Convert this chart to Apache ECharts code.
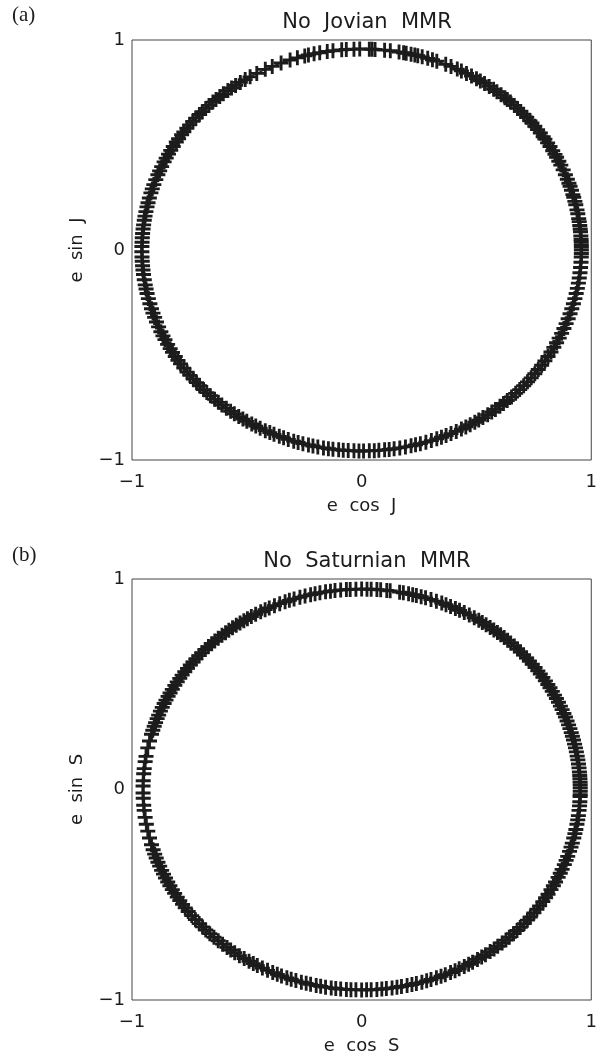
<!DOCTYPE html>
<html>
<head>
<meta charset="utf-8">
<script src="https://cdn.jsdelivr.net/npm/echarts@6/dist/echarts.min.js"></script>
<style>
  html, body { margin: 0; padding: 0; background: #ffffff; }
  #chart { width: 600px; height: 1058px; }
</style>
</head>
<body>
<div id="chart"></div>
<script>
// Orbital phase angles (degrees) of the sampled states, panel (a): Jupiter
const ANGLES_J = [
  -2, -1, 0, 0.8, 1.5, 2.3, 3, 4, 5.2, 6, 7, 8.1, 9, 10.4, 11.5, 13, 14, 15.2, 16, 17.3, 18.5, 19.4, 20.6, 22, 23.5, 25, 26.2, 27.5, 28.4, 29.6,
  31, 32.2, 33.5, 34.3, 35.6, 36.8, 38, 39.2, 40, 41.3, 42.5, 43.6, 44.8, 46, 47.4, 48.5, 49.3, 50.6, 52, 53.1, 54.5, 56, 57.3, 58.5, 60,
  61.5, 63, 64.2, 66, 67.5, 70, 71.2, 72.5, 74, 75.2, 76, 77, 78.3, 79, 80.2, 82.5, 84, 86.5, 87.3, 88, 90.5, 92, 94, 95.2, 97.5, 99,
  101, 102.5, 104, 105, 107, 109, 111.5, 114, 116, 118.5, 120.5, 122, 123.5, 125, 126.3, 127.5, 129, 130.2, 131.5, 132.6, 134, 135.2,
  136.5, 137.6, 139, 140.2, 141.5, 142.7, 144, 145, 146.4, 147.5, 149, 150.3, 151.5, 152.8, 154, 155.5, 156.8, 158, 159.5, 161, 162.3,
  163.5, 165, 166.4, 167.6, 169, 170.3, 171.5, 172.8, 174, 175.3, 176.5, 177.8, 179,
  180.5, 182, 183.2, 184.5, 185.7, 187, 188.5, 190, 191.2, 192.5, 194, 195.5, 197, 198.3, 199.6, 201, 202.5, 204, 205.3, 206.5, 208,
  209.4, 210.6, 212, 213.3, 214.5, 216, 217.4, 218.6, 220, 221.3, 222.5, 224, 225.2, 226.5, 228, 229.3, 230.5, 232, 233.4, 234.6, 236,
  237.3, 238.5, 240, 241.2, 242.5, 244, 245.3, 246.5, 248, 249.2, 250.5, 252, 253.2, 254.5, 256, 257.2, 258.5, 260, 261.3, 262.5, 264,
  265.2, 266.5, 268, 269.3,
  270.5, 272, 273.3, 274.5, 276, 277.2, 278.5, 280, 281.5, 283, 284.2, 285.5, 287, 288.5, 290, 291.3, 292.6, 294, 295.5, 297, 298.3,
  299.6, 301, 302.2, 303.5, 305, 306.3, 307.5, 309, 310.2, 311.5, 313, 314.5, 316, 317.5, 319, 320.5, 322, 323.5, 325, 326.5, 328,
  329.5, 331, 332.5, 334, 335.5, 337, 338.5, 340, 341.5, 343, 344.5, 346, 347.5, 349, 350.5, 352, 353.5, 355, 356.5
];

// Orbital phase angles (degrees) of the sampled states, panel (b): Saturn
const ANGLES_S = [
  -1.5, -0.5, 0.5, 1.4, 2.2, 3.1, 4, 5, 6.2, 7.3, 8.5, 9.6, 10.8, 12, 13.1, 14.3, 15.4, 16.5, 17.7, 18.8, 20, 21.2, 22.3, 23.5, 24.6,
  25.8, 27, 28.1, 29.3,
  30.5, 31.6, 32.8, 34, 35.2, 36.3, 37.5, 38.7, 39.9, 41, 42.2, 43.4, 44.5, 45.7, 47, 48.1, 49.3, 50.5, 51.6, 52.8, 54, 55.3, 56.5,
  57.6, 59,
  60.5, 62, 63.4, 64.6, 66, 67.3, 68.5, 70, 71.5, 73, 74.2, 75.5, 76.5, 77.6, 79, 80, 82.5, 83.4, 85, 86, 87.5, 88.6, 90, 91.5, 93,
  94, 95.5, 97, 98.2, 99.5, 101, 102.3, 103.5, 105, 106.4, 108, 109.3, 110.5, 112, 113.5, 115, 116.2, 117.5, 119,
  120.3, 121.5, 122.6, 123.8, 125, 126.2, 127.4, 128.5, 129.7, 131, 132.2, 133.3, 134.5, 135.7, 137, 138.1, 139.3, 140.5, 141.6,
  142.8, 144, 145.2, 146.3, 147.5, 148.7, 150,
  151.2, 152.3, 153.5, 154.6, 155.8, 157, 158.2, 159.3, 160.5, 161.6, 162.8, 164,
  166, 168, 170.5, 172, 174, 175.5, 177.5, 179, 181, 182.5, 184.5, 186, 188, 190, 192, 194, 196,
  197.5, 198.8, 200, 201.3, 202.5, 203.8, 205, 206.2, 207.5, 208.7, 210, 211.2, 212.5, 213.7, 215, 216.2, 217.5, 219, 220.5, 222,
  223.3, 224.5, 226, 227.5, 229, 230.5, 232, 233.2, 234.5, 236, 237.5, 239, 240.3, 241.5, 243, 244.5, 246, 247.3, 248.5, 250, 251.2,
  252.5, 254, 255.3, 256.5, 258, 259.2, 260.5, 262, 263.2, 264.5, 266, 267.2, 268.5,
  270, 271.3, 272.5, 274, 275.3, 276.5, 278, 279.3, 280.5, 282, 283.3, 284.5, 286, 287.3, 288.5, 290, 291.3, 292.5, 294, 295.3,
  296.5, 298, 299.3, 300.5, 302, 303.3, 304.5, 306, 307.3, 308.5, 310, 311.3, 312.5, 314, 315.3, 316.5, 318, 319.3, 320.5, 322,
  323.3, 324.5, 326, 327.3, 328.5, 330, 331.3, 332.5, 334, 335.3, 336.5, 338, 339.3, 340.5, 342, 343.3, 344.5, 346, 347.3, 348.5,
  350, 351.3, 352.5, 354, 355.3, 356.5, 358
];

// Eccentricity of each run
const ECC_J = 0.957;
const ECC_S = 0.952;

const TICKS = [-1, 0, 1];
const TITLES = ['No  Jovian  MMR', 'No  Saturnian  MMR'];
const X_NAMES = ['e  cos  J', 'e  cos  S'];
const Y_NAMES = ['e  sin  J', 'e  sin  S'];
const PANEL_TAGS = ['(a)', '(b)'];

// (e cos ϖ, e sin ϖ) for every sample
function toPoints(angles, e) {
  return angles.map(function (a) {
    const r = a * Math.PI / 180;
    return [e * Math.cos(r), e * Math.sin(r)];
  });
}

const ptsJ = toPoints(ANGLES_J, ECC_J);
const ptsS = toPoints(ANGLES_S, ECC_S);

const INK = '#1c1c1c';
const FONT = 'DejaVu Sans';
// filled "+" glyph, arms ~19% of the symbol size thick
const PLUS = 'path://M4.05,0H5.95V4.05H10V5.95H5.95V10H4.05V5.95H0V4.05H4.05Z';

const grids = [
  { left: 132, top: 40, width: 460, height: 420 },
  { left: 132, top: 579, width: 460, height: 421 }
];

function fmt(v) {
  return v < 0 ? '\u2212' + Math.abs(v) : String(v);
}

function makeX(i) {
  return {
    type: 'value', gridIndex: i, min: TICKS[0], max: TICKS[TICKS.length - 1], interval: 1,
    name: X_NAMES[i], nameLocation: 'middle', nameGap: 37,
    nameTextStyle: { fontFamily: FONT, fontSize: 18, color: INK },
    axisLine: { show: false }, axisTick: { show: false }, splitLine: { show: false },
    axisLabel: { margin: 13, fontFamily: FONT, fontSize: 18, color: INK, formatter: fmt }
  };
}
function makeY(i) {
  return {
    type: 'value', gridIndex: i, min: TICKS[0], max: TICKS[TICKS.length - 1], interval: 1,
    name: Y_NAMES[i], nameLocation: 'middle', nameGap: 46, nameRotate: 90,
    nameTextStyle: { fontFamily: FONT, fontSize: 18, color: INK },
    axisLine: { show: false }, axisTick: { show: false }, splitLine: { show: false },
    axisLabel: { margin: 7, fontFamily: FONT, fontSize: 18, color: INK, formatter: fmt }
  };
}

function seriesFor(i, pts) {
  return [
    {
      type: 'line', xAxisIndex: i, yAxisIndex: i, data: pts.concat([pts[0]]),
      showSymbol: false, symbol: 'none', silent: true, animation: false,
      lineStyle: { color: INK, width: 1.5 }
    },
    {
      type: 'scatter', xAxisIndex: i, yAxisIndex: i, data: pts,
      symbol: PLUS, symbolSize: 15, animation: false, silent: true,
      itemStyle: { color: INK, opacity: 1 }
    }
  ];
}

const chart = echarts.init(document.getElementById('chart'), null, { renderer: 'canvas' });

chart.setOption({
  backgroundColor: '#ffffff',
  animation: false,
  title: [0, 1].map(function (i) {
    return {
      text: TITLES[i], left: 362, top: grids[i].top - 33, textAlign: 'center',
      textStyle: { fontFamily: FONT, fontSize: 21, fontWeight: 'normal', color: INK }
    };
  }),
  grid: grids.map(function (g) {
    return Object.assign({ show: true, borderColor: '#444', borderWidth: 1, backgroundColor: 'transparent' }, g);
  }),
  xAxis: [makeX(0), makeX(1)],
  yAxis: [makeY(0), makeY(1)],
  graphic: [
    { type: 'text', left: 12, top: 5, style: { text: PANEL_TAGS[0], font: '21px "Liberation Serif"', fill: INK } },
    { type: 'text', left: 12, top: 545, style: { text: PANEL_TAGS[1], font: '21px "Liberation Serif"', fill: INK } }
  ],
  series: seriesFor(0, ptsJ).concat(seriesFor(1, ptsS))
});
</script>
</body>
</html>
